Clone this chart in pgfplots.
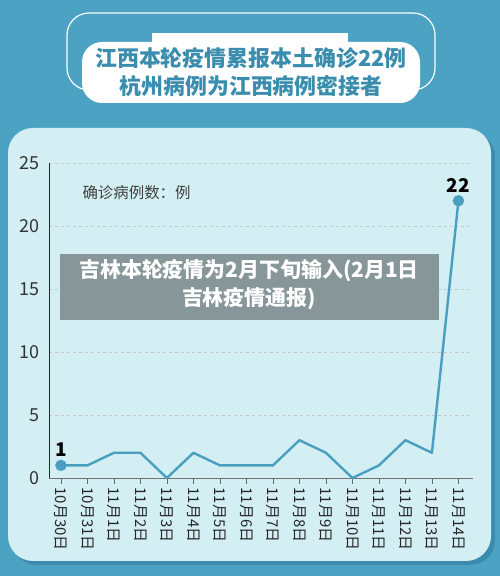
\documentclass[border=0pt]{standalone}
\usepackage{pgfplots}
\pgfplotsset{compat=1.18}
\usepackage{fontspec}
\setmainfont{Noto Sans CJK SC}
\definecolor{bgblue}{HTML}{4BA2C3}
\definecolor{shadowblue}{HTML}{3A8BAD}
\definecolor{panel}{HTML}{D3EFF3}
\definecolor{linec}{HTML}{4A9FC0}
\definecolor{titlec}{HTML}{3B8DAE}
\definecolor{graybox}{HTML}{879698}
\begin{document}
\begin{tikzpicture}[x=1bp,y=1bp]
\fill[bgblue] (0,0) rectangle (500,576);
\fill[shadowblue, rounded corners=25bp] (12,11) rectangle (495,444);
\fill[panel, rounded corners=25bp] (8,15) rectangle (491,448);
% title decoration
\draw[white, line width=1.2bp, rounded corners=22bp] (67,486) rectangle (435,563);
\fill[white, rounded corners=20bp] (82,473) rectangle (420,534);
\fill[white] (152,531) rectangle (348,543);
\node[text=titlec, font=\fontsize{22}{24}\selectfont\bfseries] at (251,518) {江西本轮疫情累报本土确诊22例};
\node[text=titlec, font=\fontsize{22}{24}\selectfont\bfseries] at (251,490) {杭州病例为江西病例密接者};
\begin{axis}[
  at={(49bp,98bp)}, anchor=south west,
  scale only axis, width=424bp, height=315bp,
  xmin=-0.45, xmax=15.55, ymin=0, ymax=25,
  axis lines=left,
  x axis line style={draw=black!55, -, line width=0.8bp},
  y axis line style={draw=black!85, -, line width=0.8bp},
  ytick={0,5,...,25},
  ymajorgrids, grid style={dashed, black!22, line width=0.6bp},
  ytick style={draw=none},
  xtick={0,...,15},
  xticklabels={10月30日,10月31日,11月1日,11月2日,11月3日,11月4日,11月5日,11月6日,11月7日,11月8日,11月9日,11月10日,11月11日,11月12日,11月13日,11月14日},
  x tick label style={rotate=-90, anchor=west, font=\fontsize{15}{15}\selectfont, text=black!85},
  y tick label style={font=\fontsize{18}{18}\selectfont, text=black!80},
  /pgf/number format/assume math mode=true,
  xtick style={draw=black!60, line width=0.8bp},
  tick align=outside, major tick length=6bp,
  clip=false,
]
\addplot[linec, line width=2.4bp, line join=round] coordinates {(0,1)(1,1)(2,2)(3,2)(4,0)(5,2)(6,1)(7,1)(8,1)(9,3)(10,2)(11,0)(12,1)(13,3)(14,2)(15,22)};
\addplot[only marks, mark=*, mark size=5.5bp, linec,
  nodes near coords, point meta=explicit symbolic,
  every node near coord/.style={anchor=south, yshift=5bp, text=black, font=\fontsize{19}{19}\selectfont\bfseries}]
  coordinates {(0,1)[1] (15,22)[22]};
\end{axis}
\node[anchor=west, text=black!75, font=\fontsize{15.5}{15.5}\selectfont] at (79,383) {确诊病例数：例};
\fill[graybox] (60,256) rectangle (439,322);
\node[text=white, font=\fontsize{21}{22}\selectfont\bfseries] at (249,305) {吉林本轮疫情为2月下旬输入(2月1日};
\node[text=white, font=\fontsize{21}{22}\selectfont\bfseries] at (249,277) {吉林疫情通报)};
\end{tikzpicture}
\end{document}
